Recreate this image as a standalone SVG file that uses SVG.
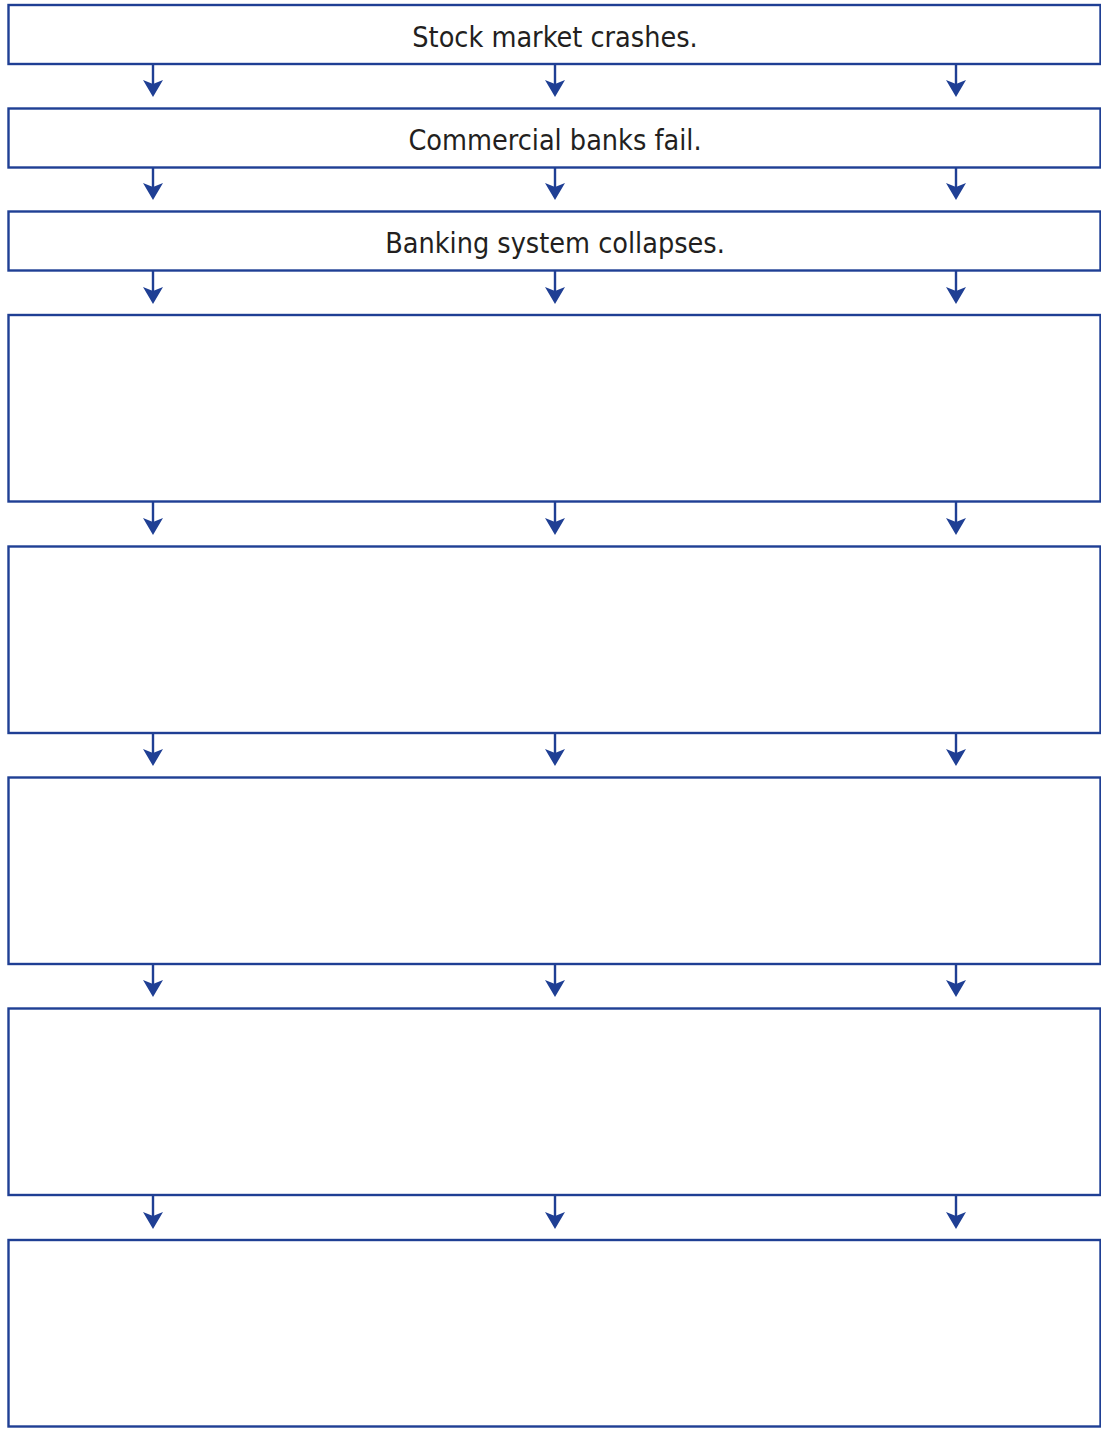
<svg xmlns="http://www.w3.org/2000/svg" width="1101" height="1432" viewBox="0 0 1101 1432">
<style>
.box{fill:#fff;stroke:#1f3f94;stroke-width:2.4}
.ln{stroke:#1f3f94;stroke-width:2.4;fill:none}
.hd{fill:#1f3f94}
.t{font-family:"DejaVu Sans Condensed","DejaVu Sans",sans-serif;font-stretch:condensed;font-size:28.5px;fill:#231f20;text-anchor:middle}
</style>
<defs>
<g id="arr"><path class="hd" d="M-10,-17 L0,0 L10,-17 L0,-13 Z"/></g>
</defs>
<g id="node1"><rect class="box" x="8.5" y="5" width="1092" height="59"/><text class="t" x="555" y="47">Stock market crashes.</text></g>
<g id="node2"><rect class="box" x="8.5" y="108.5" width="1092" height="59"/><text class="t" x="555" y="150">Commercial banks fail.</text></g>
<g id="node3"><rect class="box" x="8.5" y="211.5" width="1092" height="59"/><text class="t" x="555" y="253">Banking system collapses.</text></g>
<g id="node4"><rect class="box" x="8.5" y="315" width="1092" height="186.5"/></g>
<g id="node5"><rect class="box" x="8.5" y="546.5" width="1092" height="186.5"/></g>
<g id="node6"><rect class="box" x="8.5" y="777.5" width="1092" height="186.5"/></g>
<g id="node7"><rect class="box" x="8.5" y="1008.5" width="1092" height="186.5"/></g>
<g id="node8"><rect class="box" x="8.5" y="1240" width="1092" height="186.5"/></g>
<g id="connectors">
<path class="ln" d="M153,65V90M555,65V90M956,65V90"/>
<use href="#arr" x="153" y="97"/><use href="#arr" x="555" y="97"/><use href="#arr" x="956" y="97"/>
<path class="ln" d="M153,168V193M555,168V193M956,168V193"/>
<use href="#arr" x="153" y="200"/><use href="#arr" x="555" y="200"/><use href="#arr" x="956" y="200"/>
<path class="ln" d="M153,271V297M555,271V297M956,271V297"/>
<use href="#arr" x="153" y="304"/><use href="#arr" x="555" y="304"/><use href="#arr" x="956" y="304"/>
<path class="ln" d="M153,502V528M555,502V528M956,502V528"/>
<use href="#arr" x="153" y="535"/><use href="#arr" x="555" y="535"/><use href="#arr" x="956" y="535"/>
<path class="ln" d="M153,734V759M555,734V759M956,734V759"/>
<use href="#arr" x="153" y="766"/><use href="#arr" x="555" y="766"/><use href="#arr" x="956" y="766"/>
<path class="ln" d="M153,965V990M555,965V990M956,965V990"/>
<use href="#arr" x="153" y="997"/><use href="#arr" x="555" y="997"/><use href="#arr" x="956" y="997"/>
<path class="ln" d="M153,1196V1222M555,1196V1222M956,1196V1222"/>
<use href="#arr" x="153" y="1229"/><use href="#arr" x="555" y="1229"/><use href="#arr" x="956" y="1229"/>
</g>
</svg>
